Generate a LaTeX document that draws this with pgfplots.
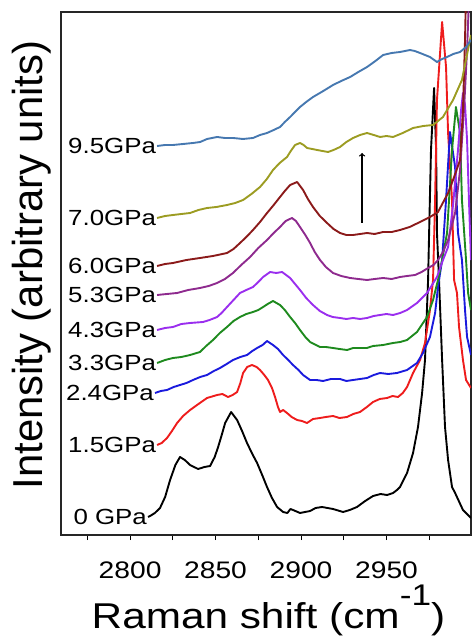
\documentclass[border=0pt]{standalone}
\usepackage{fontspec}
\setmainfont{Liberation Sans}[FakeStretch=1.18]
\newfontfamily\ylabfont{Liberation Sans}
\usepackage{pgfplots}
\pgfplotsset{compat=1.18}
\definecolor{cRed}{HTML}{EE1C1C}
\definecolor{cBlue}{HTML}{1A1ADD}
\definecolor{cGreen}{HTML}{1E8A1E}
\definecolor{cViolet}{HTML}{9A2EEE}
\definecolor{cPurple}{HTML}{8E2A8E}
\definecolor{cDRed}{HTML}{8B1A1A}
\definecolor{cOlive}{HTML}{9C9C22}
\definecolor{cSteel}{HTML}{4678B0}
\begin{document}
\begin{tikzpicture}
\useasboundingbox (0,0) rectangle (472bp,636bp);
\begin{axis}[
 at={(61bp,101bp)}, anchor=south west,
 scale only axis, width=410bp, height=523bp,
 xmin=2759.6, xmax=2999.4, ymin=0, ymax=523,
 axis line style={line width=1.5pt, color=black!85},
 xtick={2800,2850,2900,2950},
 minor xtick={2775,2825,2875,2925,2975},
 xtick pos=bottom, tick align=outside,
 major tick length=5bp, minor tick length=5bp,
 ytick=\empty,
 every tick/.style={black, line width=1pt},
 /pgf/number format/assume math mode=true,
 /pgf/number format/1000 sep={},
 xticklabel style={font=\fontsize{24}{24}\selectfont, inner sep=0pt, anchor=north, yshift=-22bp},
 xlabel={Raman shift (cm\raisebox{23bp}{\fontsize{30}{30}\selectfont -1})},
 xlabel style={at={(axis description cs:0.506,-0.178)}, anchor=base, font=\fontsize{36}{36}\selectfont},
 ylabel={Intensity (arbitrary units)},
 ylabel style={at={(axis description cs:-0.071,0.516)}, anchor=center, rotate=0, font=\ylabfont\fontsize{42}{42}\selectfont},
 every axis plot post/.append style={line width=1.9pt, no markers, line join=round},
 clip=true,
]
% 0 GPa
\addplot[black] coordinates {
(2810.5,18)(2811.7,19)(2814.5,22)(2817.5,27)(2820.5,38)(2823.4,55)(2826.5,70)(2829.2,78)(2832.0,75)(2835.1,70)(2839.8,66)(2843.5,68)(2846.8,69)
(2849.5,78)(2851.5,88)(2853.6,100)(2855.6,112)(2859.1,123)(2862.6,115)(2865.5,104)(2868.4,92)(2871.5,81)(2874.3,72)(2877.5,59)(2880.1,48)(2883.0,37)(2886.0,28)
(2889.5,23)(2892.0,22)(2893.8,26)(2895.3,25)(2899.4,22)(2905.3,24)(2908.5,27)(2912.3,28)(2918.7,26)(2924.6,23)(2928.5,25)(2932.7,28)(2937.5,34)
(2942.1,39)(2946.5,41)(2950.3,40)(2953.8,42)(2956.1,45)(2957.9,48)(2962.0,62)(2965.5,82)(2968.4,108)
(2970.8,142)(2972.5,175)(2974.3,255)(2974.9,302)(2976.0,385)(2977.8,447)(2979.0,385)
(2979.5,302)(2980.7,255)(2982.5,175)(2984.2,108)(2986.0,75)(2988.3,48)(2990.1,42)
(2994.7,25)(2999.4,17)};
% 1.5 GPa
\addplot[cRed] coordinates {
(2815.8,90)(2818.5,92)(2821.6,97)(2824.5,104)(2827.5,112)(2831.0,119)(2835.1,125)(2840.0,131)(2845.0,137)(2850.9,140)(2854.0,141)(2857.3,138)(2860.0,140)(2862.6,143)
(2864.5,152)(2866.1,162)(2868.5,168)(2871.3,170)(2874.0,168)(2876.0,165)(2878.5,160)(2880.7,155)(2883.0,147)(2884.8,138)(2886.5,128)(2887.7,123)(2889.5,125)(2891.8,122)
(2894.5,118)(2897.7,115)(2900.5,114)(2903.5,112)(2907.0,116)(2911.1,117)(2914.5,118)(2918.7,119)(2922.5,117)(2926.9,118)(2930.5,121)(2934.5,123)(2938.5,128)(2942.1,133)
(2946.0,136)(2950.3,137)(2953.5,139)(2956.7,138)(2959.5,142)(2962.0,148)(2965.5,162)(2969.6,175)(2972.5,192)(2975.4,225)
(2977.2,255)(2978.4,335)(2979.5,435)(2982.5,513)(2984.8,468)(2986.0,402)(2988.3,335)
(2989.5,255)(2991.2,242)(2992.4,208)(2994.7,175)(2996.5,155)(2999.4,147)};
% 2.4 GPa
\addplot[cBlue] coordinates {
(2814.6,142)(2818.0,144)(2821.6,145)(2825.5,148)(2829.2,150)(2833.0,152)(2836.8,155)(2841.0,158)(2845.0,160)(2849.0,164)(2852.6,167)(2856.5,171)(2860.2,175)
(2864.5,178)(2868.4,180)(2871.5,184)(2874.3,187)(2877.5,190)(2880.1,194)(2883.6,190)(2886.5,186)(2889.5,180)(2892.5,175)(2895.3,170)(2898.5,165)(2901.2,160)
(2905.3,155)(2909.0,155)(2912.9,154)(2917.5,156)(2922.8,156)(2926.5,154)(2930.4,155)(2934.5,156)(2938.6,157)(2942.5,160)(2946.2,162)(2951.0,161)(2956.1,162)
(2962.0,165)(2967.8,172)(2971.3,182)(2975.4,198)(2978.4,222)(2980.1,248)(2982.5,275)
(2984.8,335)(2987.1,403)(2990.1,368)(2991.8,302)(2994.1,275)(2995.9,225)(2997.1,198)
(2999.4,180)};
% 3.3 GPa
\addplot[cGreen] coordinates {
(2815.8,172)(2820.5,175)(2825.1,177)(2830.0,178)(2835.1,180)(2840.9,183)(2844.5,189)(2848.5,195)(2852.5,202)(2856.7,208)(2860.5,214)(2864.3,218)
(2868.0,221)(2871.9,223)(2875.0,225)(2877.8,228)(2880.5,231)(2883.6,234)(2887.7,230)(2890.5,225)(2893.6,218)(2896.5,212)(2899.4,205)(2902.5,198)(2905.3,193)
(2911.1,188)(2914.5,188)(2918.7,187)(2922.5,186)(2926.9,185)(2930.5,187)(2934.5,187)(2938.5,187)(2942.1,189)(2948.0,190)(2953.8,192)(2958.0,193)(2962.0,195)
(2967.8,203)(2973.7,218)(2977.2,235)(2980.1,255)(2982.5,275)(2985.4,302)(2988.3,385)
(2990.6,428)(2993.0,402)(2994.1,335)(2996.5,275)(2997.7,242)(2999.4,225)};
% 4.3 GPa
\addplot[cViolet] coordinates {
(2815.8,205)(2820.5,207)(2825.1,208)(2830.0,211)(2835.1,212)(2842.7,213)(2846.5,215)(2850.9,218)(2853.5,222)(2856.7,228)(2860.5,235)(2864.3,242)
(2868.0,245)(2871.9,248)(2875.0,253)(2877.8,258)(2881.9,263)(2885.5,262)(2888.9,263)(2893.6,257)(2896.5,251)(2899.4,245)(2903.0,237)(2907.0,230)
(2911.0,224)(2915.2,220)(2918.5,218)(2922.8,217)(2926.5,216)(2930.4,217)(2934.5,216)(2938.6,217)(2942.5,219)(2946.2,220)(2950.0,221)(2953.8,220)(2958.0,222)(2962.0,225)
(2967.8,232)(2973.7,242)(2979.5,258)(2983.0,275)(2986.0,288)(2988.9,330)(2991.8,385)
(2993.6,425)(2994.7,442)(2995.9,430)(2997.1,395)(2998.2,335)(2999.4,275)};
% 5.3 GPa
\addplot[cPurple] coordinates {
(2815.8,240)(2821.5,241)(2827.5,242)(2834.0,245)(2840.9,247)(2846.0,249)(2850.9,252)(2855.5,256)(2860.2,262)(2865.0,270)(2870.2,278)(2875.0,287)(2880.1,295)
(2884.0,302)(2887.7,308)(2891.0,314)(2894.7,317)(2897.0,314)(2899.4,308)(2902.5,300)(2905.3,292)(2908.0,283)(2911.1,275)(2914.5,268)(2918.7,262)(2923.5,259)(2928.7,257)
(2933.5,256)(2938.6,255)(2943.0,256)(2948.0,257)(2953.0,256)(2957.9,258)(2962.0,259)(2966.7,260)(2970.5,263)(2974.3,267)(2977.5,270)(2980.1,275)(2983.0,283)(2986.0,295)
(2990.1,322)(2993.0,365)(2995.3,425)(2997.1,485)(2998.2,535)};
% 6.0 GPa
\addplot[cDRed] coordinates {
(2815.8,269)(2820.5,271)(2825.1,272)(2833.0,275)(2840.9,277)(2848.5,279)(2856.7,282)(2860.5,286)(2864.3,292)(2868.0,298)(2871.9,305)(2876.0,313)(2880.1,322)
(2884.0,330)(2887.7,338)(2890.5,344)(2893.6,350)(2897.7,353)(2901.2,345)(2904.0,336)(2907.0,328)(2911.0,319)(2915.2,312)(2919.0,306)(2922.8,302)(2926.5,300)
(2930.4,300)(2934.5,301)(2938.6,302)(2943.0,301)(2948.0,303)(2953.0,303)(2957.9,305)(2963.5,308)(2969.6,313)(2975.4,318)(2980.1,323)
(2986.0,342)(2988.9,355)(2993.0,375)(2994.7,425)(2995.9,495)(2996.5,545)};
% 7.0 GPa
\addplot[cOlive] coordinates {
(2815.8,317)(2820.5,319)(2825.1,320)(2830.0,321)(2835.1,322)(2840.0,325)(2845.0,327)(2850.5,328)(2856.7,330)(2861.5,332)(2866.1,335)(2871.0,341)(2876.0,348)
(2880.0,356)(2883.6,365)(2887.5,372)(2891.8,378)(2894.0,384)(2896.5,390)(2899.4,392)(2901.5,390)(2903.5,387)(2906.5,386)(2909.4,385)(2912.5,384)(2915.8,383)
(2919.0,385)(2922.8,388)(2926.5,393)(2930.4,397)(2934.5,400)(2938.6,402)(2942.5,400)(2946.2,398)(2950.0,399)(2953.8,398)(2959.5,402)(2965.5,407)(2971.5,409)(2977.2,410)
(2983.0,418)(2988.9,435)(2994.1,455)(2998.8,495)(2999.4,500)};
% 9.5 GPa
\addplot[cSteel] coordinates {
(2815.8,389)(2820.5,390)(2825.1,390)(2831.0,391)(2836.8,392)(2841.0,393)(2845.0,396)(2850.9,398)(2855.5,397)(2860.2,397)(2866.0,396)(2871.9,397)(2876.0,400)(2880.1,402)
(2884.0,405)(2887.7,408)(2890.5,413)(2893.6,418)(2896.5,423)(2899.4,428)(2903.0,433)(2907.0,438)(2913.0,444)(2918.7,450)(2923.5,454)(2928.7,458)(2933.5,463)(2938.6,468)
(2943.5,474)(2948.0,480)(2953.0,482)(2957.9,483)(2963.7,485)(2966.5,484)(2969.6,482)(2975.4,478)(2979.5,473)(2982.5,476)(2985.4,478)
(2989.0,481)(2993.0,483)(2996.5,488)(2999.4,495)};
\draw[->, line width=1.3pt, black] (axis cs:2935.7,312) -- (axis cs:2935.7,382);
\begin{scope}[every node/.style={anchor=east, inner sep=1bp, font=\fontsize{22}{22}\selectfont}]
\node at (axis cs:2815.8,389) {9.5GPa};
\node at (axis cs:2815.8,317) {7.0GPa};
\node at (axis cs:2815.8,269) {6.0GPa};
\node at (axis cs:2815.8,240) {5.3GPa};
\node at (axis cs:2815.8,205) {4.3GPa};
\node at (axis cs:2815.8,172) {3.3GPa};
\node at (axis cs:2814.6,142) {2.4GPa};
\node at (axis cs:2815.8,90) {1.5GPa};
\node at (axis cs:2810.5,18) {0 GPa};
\end{scope}
\end{axis}
\end{tikzpicture}
\end{document}
